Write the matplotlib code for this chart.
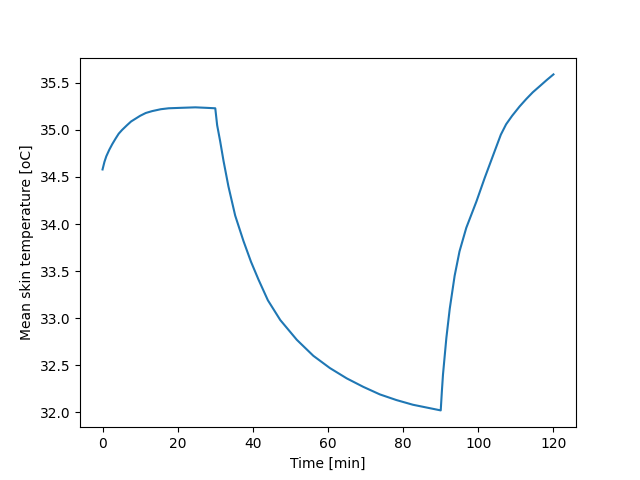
import matplotlib
matplotlib.use("Agg")
import matplotlib.pyplot as plt

# time [min] and mean skin temperature [oC]
time = [0, 0.5, 1, 1.8, 2.6, 3.5, 4.3, 5.2, 6.5, 7.6, 8.8, 10, 11.5, 13.2, 15.5,
        17.6, 21, 24.7, 27.5, 30,
        30.5, 31.3, 32.2, 33.5, 35.3, 37.5, 39.5, 41.5, 44, 47.3, 51.7, 56.1,
        60.5, 65, 69.4, 73.8, 78.2, 82.6, 86.3, 90,
        90.3, 90.6, 91.5, 92.4, 93.7, 95, 96.8, 99.5, 101.7, 104.5, 106, 107.4,
        109, 111, 112.8, 114.5, 116.5, 118.2, 120]
temp = [34.58, 34.66, 34.72, 34.79, 34.85, 34.91, 34.96, 35.00, 35.05, 35.09, 35.12, 35.15, 35.18, 35.20, 35.22,
        35.23, 35.235, 35.24, 35.235, 35.23,
        35.05, 34.88, 34.67, 34.40, 34.09, 33.82, 33.60, 33.41, 33.19, 32.98, 32.77, 32.60,
        32.47, 32.36, 32.27, 32.19, 32.13, 32.08, 32.05, 32.02,
        32.22, 32.40, 32.79, 33.10, 33.45, 33.71, 33.96, 34.24, 34.49, 34.79, 34.95, 35.06,
        35.15, 35.25, 35.33, 35.40, 35.47, 35.53, 35.59]

fig, ax = plt.subplots(figsize=(6.4, 4.8), dpi=100)
ax.plot(time, temp)
ax.set_xlabel("Time [min]")
ax.set_ylabel("Mean skin temperature [oC]")

fig.savefig("out.png")
